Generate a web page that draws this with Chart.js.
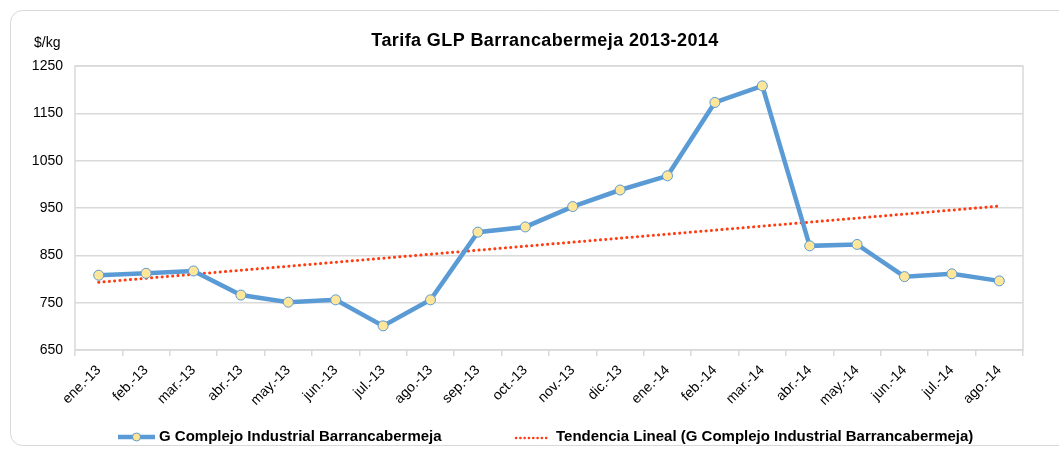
<!DOCTYPE html>
<html lang="es">
<head>
<meta charset="UTF-8">
<title>Tarifa GLP Barrancabermeja 2013-2014</title>
<script src="https://cdn.jsdelivr.net/npm/chart.js"></script>
<style>
    html, body { margin: 0; padding: 0; background: #fff; }
    #wrap { width: 1059px; height: 449px; position: relative; }
</style>
</head>
<body>
<div id="wrap"><canvas id="glpChart" width="1059" height="449"></canvas></div>
<script>
// meses
var months = ["ene.-13", "feb.-13", "mar.-13", "abr.-13", "may.-13", "jun.-13", "jul.-13", "ago.-13",
    "sep.-13", "oct.-13", "nov.-13", "dic.-13", "ene.-14", "feb.-14", "mar.-14", "abr.-14",
    "may.-14", "jun.-14", "jul.-14", "ago.-14"];
// tarifa $/kg
var tarifa = [808, 812, 817, 766, 751, 756, 701, 756, 899, 910, 953, 988, 1018, 1173, 1208, 870, 873, 805, 811, 796];
var yTicks = [650, 750, 850, 950, 1050, 1150, 1250];

var serieLabel = "G Complejo Industrial Barrancabermeja";
var trendLabel = "Tendencia Lineal (G Complejo Industrial Barrancabermeja)";

// tendencia lineal (minimos cuadrados sobre la serie)
function linearTrend(vals) {
    var n = vals.length, sx = 0, sy = 0, sxy = 0, sxx = 0;
    for (var i = 0; i < n; i++) { sx += i; sy += vals[i]; sxy += i * vals[i]; sxx += i * i; }
    var b = (n * sxy - sx * sy) / (n * sxx - sx * sx);
    var a = (sy - b * sx) / n;
    return vals.map(function (v, i) { return a + b * i; });
}
var tendencia = linearTrend(tarifa);

var blue = "#5B9BD5";
var red = "#FF3B0F";
var font = "'Liberation Sans', Arial, sans-serif";

// marco, titulo, unidad y leyenda
var decor = {
    id: "decor",
    beforeDraw: function (chart) {
        var ctx = chart.ctx, a = chart.chartArea;
        ctx.save();
        ctx.fillStyle = "#fff";
        ctx.fillRect(0, 0, chart.width, chart.height);
        ctx.strokeStyle = "#d9d9d9";
        ctx.lineWidth = 1;
        ctx.beginPath();
        ctx.roundRect(10.5, 10.5, 1080, 435, 12);
        ctx.stroke();
        ctx.strokeStyle = "#d9d9d9";
        ctx.lineWidth = 1.5;
        ctx.strokeRect(a.left, a.top, a.right - a.left, a.bottom - a.top);
        ctx.restore();
    },
    afterDraw: function (chart) {
        var ctx = chart.ctx;
        ctx.save();
        ctx.fillStyle = "#000";
        ctx.textBaseline = "middle";
        ctx.textAlign = "center";
        ctx.font = "bold 18px " + font;
        ctx.letterSpacing = "0.4px";
        ctx.fillText("Tarifa GLP Barrancabermeja 2013-2014", 545, 41);
        ctx.letterSpacing = "0px";
        ctx.textAlign = "left";
        ctx.font = "14px " + font;
        ctx.fillText("$/kg", 34, 43);

        // leyenda
        var ly = 437;
        ctx.strokeStyle = blue;
        ctx.lineWidth = 4.5;
        ctx.beginPath();
        ctx.moveTo(118, ly); ctx.lineTo(155, ly);
        ctx.stroke();
        ctx.beginPath();
        ctx.arc(136.5, ly, 4, 0, Math.PI * 2);
        ctx.fillStyle = "#FFE699";
        ctx.fill();
        ctx.lineWidth = 1;
        ctx.stroke();

        ctx.strokeStyle = red;
        ctx.lineWidth = 2.5;
        ctx.lineCap = "round";
        ctx.setLineDash([0.1, 4.2]);
        ctx.beginPath();
        ctx.moveTo(516, ly + 1); ctx.lineTo(550, ly + 1);
        ctx.stroke();
        ctx.setLineDash([]);

        ctx.fillStyle = "#000";
        ctx.font = "bold 15px " + font;
        ctx.fillText(serieLabel, 159, ly);
        ctx.fillText(trendLabel, 556, ly);
        ctx.restore();
    }
};

var ctx = document.getElementById("glpChart").getContext("2d");
var chart = new Chart(ctx, {
    type: "line",
    data: {
        labels: months,
        datasets: [
            {
                label: serieLabel,
                data: tarifa,
                borderColor: blue,
                borderWidth: 4.5,
                pointRadius: 5,
                pointBackgroundColor: "#FFE699",
                pointBorderColor: blue,
                pointBorderWidth: 1,
                tension: 0,
                order: 1
            },
            {
                label: trendLabel,
                data: tendencia,
                borderColor: red,
                borderWidth: 3,
                borderDash: [0.1, 5.2],
                borderCapStyle: "round",
                pointRadius: 0,
                tension: 0,
                order: 2
            }
        ]
    },
    options: {
        responsive: false,
        animation: false,
        events: [],
        layout: { padding: { left: 0, top: 66, right: 36, bottom: 0 } },
        plugins: {
            legend: { display: false },
            title: { display: false },
            tooltip: { enabled: false }
        },
        scales: {
            x: {
                offset: true,
                grid: {
                    offset: true,
                    drawOnChartArea: false,
                    drawTicks: true,
                    tickLength: 6,
                    color: "#d9d9d9",
                    lineWidth: 1.5
                },
                border: { display: false },
                ticks: {
                    color: "#000",
                    font: { family: font, size: 14 },
                    minRotation: 45,
                    maxRotation: 45,
                    autoSkip: false,
                    padding: 6
                },
                afterFit: function (s) { s.height = 99; }
            },
            y: {
                min: yTicks[0],
                max: yTicks[yTicks.length - 1],
                afterBuildTicks: function (s) {
                    s.ticks = yTicks.map(function (v) { return { value: v }; });
                },
                grid: { color: "#d9d9d9", lineWidth: 1.5, drawTicks: false },
                border: { display: false },
                ticks: {
                    color: "#000",
                    font: { family: font, size: 14 },
                    padding: 12,
                    callback: function (v) { return String(v); }
                },
                afterFit: function (s) { s.width = 75; }
            }
        }
    },
    plugins: [decor]
});
</script>
</body>
</html>
